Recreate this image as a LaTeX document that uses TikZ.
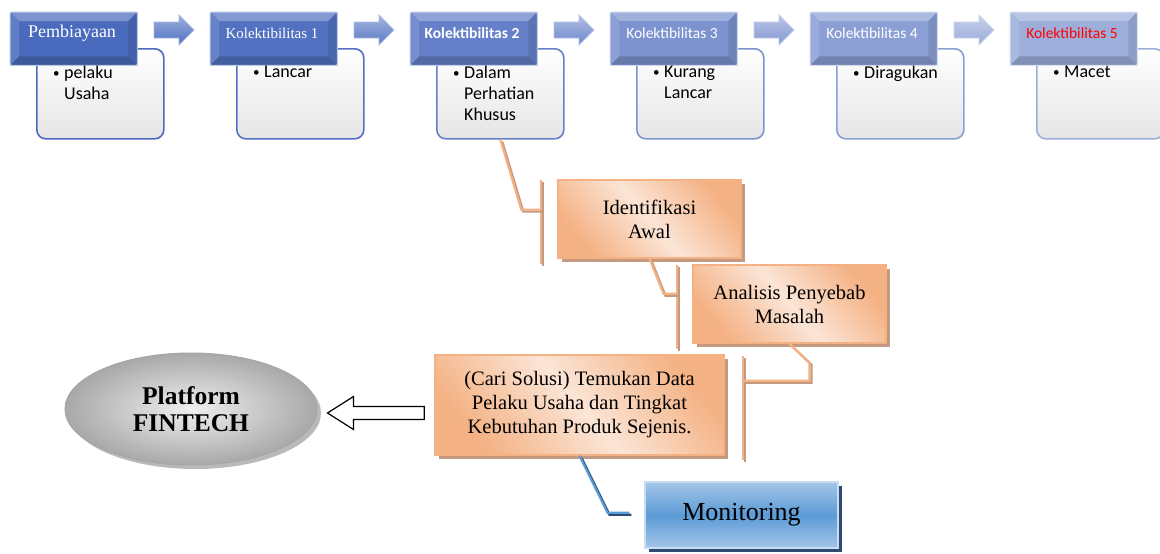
\documentclass[tikz,border=0pt]{standalone}
\usepackage{fontspec}
\setmainfont{Liberation Serif}
\newfontfamily\calib{Carlito}
\usetikzlibrary{shapes.geometric,shadows,calc}

\definecolor{hc1}{HTML}{4A6BBD}
\definecolor{hc2}{HTML}{5272C1}
\definecolor{hc3}{HTML}{6580C8}
\definecolor{hc4}{HTML}{7D93D0}
\definecolor{hc5}{HTML}{8B9FD5}
\definecolor{hc6}{HTML}{9DAEDB}
\definecolor{ac1}{HTML}{4E70C0}
\definecolor{ac2}{HTML}{5A7AC5}
\definecolor{ac3}{HTML}{6E88CC}
\definecolor{ac4}{HTML}{8397D2}
\definecolor{ac5}{HTML}{9AABDA}
\definecolor{org}{HTML}{F4B183}
\definecolor{orgl}{HTML}{FBE5D6}
\definecolor{orgsh}{HTML}{C39A80}
\definecolor{monM}{HTML}{5B9BD5}
\definecolor{monL}{HTML}{A4C6E8}
\definecolor{monsh}{HTML}{2E4A75}

\newcommand\itm{\makebox[11pt][l]{\raisebox{1pt}{\fontsize{13}{13}\selectfont\textbullet}}}

\tikzset{
  hdr/.style={rectangle, anchor=north west, inner sep=0pt,
    minimum width=127pt, minimum height=53pt, fill=#1},
  cbox/.style={rectangle, rounded corners=9pt, anchor=north west, inner sep=0pt,
    minimum width=127pt, minimum height=90pt, line width=1.6pt,
    draw=#1, top color=white, bottom color=gray!20},
  htxt/.style={inner sep=0pt, text=white},
  btxt/.style={anchor=north west, inner sep=0pt, align=left, text width=105pt,
    font=\calib\fontsize{18}{21}\selectfont},
  arw/.style={draw=white!50!#1, line width=0.8pt, top color=white!45!#1, bottom color=#1},
  obox/.style={rectangle, draw=org, line width=1.5pt, align=center,
    top color=org, bottom color=org, middle color=orgl, shading angle=-50,
    font=\fontsize{20.5}{24}\selectfont,
    drop shadow={shadow xshift=4pt, shadow yshift=-4pt, fill=orgsh, opacity=1}},
  mbox/.style={rectangle, draw=monL!60!white, line width=1.5pt,
    minimum width=193pt, minimum height=66pt,
    top color=monL, bottom color=monL, middle color=monM,
    font=\fontsize{26}{30}\selectfont,
    drop shadow={shadow xshift=4pt, shadow yshift=-4pt, fill=monsh, opacity=1}},
  fbox/.style={ellipse, draw=gray!70, line width=1pt, align=center,
    minimum width=252pt, minimum height=112pt,
    inner color=gray!12, outer color=gray!68,
    font=\bfseries\fontsize{25.5}{27}\selectfont,
    drop shadow={shadow xshift=4pt, shadow yshift=-4pt, fill=gray!55, opacity=1}},
  oline/.style={draw=org, line width=2.2pt,
    preaction={draw=orgsh, line width=2.2pt, transform canvas={shift={(2pt,-2pt)}}}},
  bline/.style={draw=monM, line width=2.2pt,
    preaction={draw=monsh, line width=2.2pt, transform canvas={shift={(2pt,-2pt)}}}}
}

\begin{document}
\begin{tikzpicture}[x=1pt,y=-1pt]
\useasboundingbox (0,0) rectangle (1160,554);

% top row: stages of collectibility
\foreach \i/\x/\hd/\bt in {
  1/10/{\fontsize{18}{20}\selectfont Pembiayaan}/{\itm pelaku\\\hspace*{11pt}Usaha},
  2/210/{\fontsize{15}{18}\selectfont Kolektibilitas 1}/{\itm Lancar},
  3/410/{\calib\bfseries\fontsize{15.5}{18}\selectfont Kolektibilitas 2}/{\itm Dalam\\\hspace*{11pt}Perhatian\\\hspace*{11pt}Khusus},
  4/610/{\calib\fontsize{15.5}{18}\selectfont Kolektibilitas 3}/{\itm Kurang\\\hspace*{11pt}Lancar},
  5/810/{\calib\fontsize{15.5}{18}\selectfont Kolektibilitas 4}/{\itm Diragukan},
  6/1010/{\calib\fontsize{15.5}{18}\selectfont\color{red} Kolektibilitas 5}/{\itm Macet}} {
  \node[cbox=hc\i] (bx\i) at (\x+26,48) {};
  \node[hdr=hc\i] (hd\i) at (\x,12) {};
  % bevel
  \fill[white!28!hc\i] (hd\i.north west) -- (hd\i.north east) -- ++(-9,9) -- ($(hd\i.north west)+(9,9)$) -- cycle;
  \fill[black!10!hc\i] (hd\i.north east) -- (hd\i.south east) -- ++(-9,-9) -- ($(hd\i.north east)+(-9,9)$) -- cycle;
  \fill[black!18!hc\i] (hd\i.south east) -- (hd\i.south west) -- ++(9,-9) -- ($(hd\i.south east)+(-9,-9)$) -- cycle;
  \fill[white!12!hc\i] (hd\i.south west) -- (hd\i.north west) -- ++(9,9) -- ($(hd\i.south west)+(9,-9)$) -- cycle;
  \draw[white!60!hc\i, line width=1pt, rounded corners=2pt] (hd\i.north west) rectangle (hd\i.south east);
  \node[htxt] (ht\i) at (\x+62,33) {\hd};
  \node[btxt] (tx\i) at (\x+43,66) {\bt};
}
\foreach \i in {1,...,5} {
  \pgfmathsetmacro\x{10+200*(\i-1)}
  \path[arw=ac\i] (\x+144,22) -- (\x+169,22) -- (\x+169,15) -- (\x+184,30)
    -- (\x+169,45) -- (\x+169,38) -- (\x+144,38) -- cycle;
}

% steps
\node[obox, minimum width=183pt, minimum height=78pt] (ident) at (649.5,219) {Identifikasi\\Awal};
\node[obox, minimum width=193pt, minimum height=78pt] (anls) at (789.5,304) {Analisis Penyebab\\Masalah};
\node[obox, minimum width=289pt, minimum height=100pt] (solu) at (579.5,405)
  {(Cari Solusi) Temukan Data\\Pelaku Usaha dan Tingkat\\Kebutuhan Produk Sejenis.};
\node[mbox] (mon) at (741.5,515) {Monitoring};
\node[fbox] (fin) at (191,409) {Platform\\FINTECH};

% brackets
\draw[oline] ($(ident.north west)+(-16,1)$) -- ($(ident.south west)+(-16,5)$);
\draw[oline] ($(anls.north west)+(-15,1)$) -- ($(anls.south west)+(-15,5)$);
\draw[oline] ($(solu.north east)+(18,2)$) -- ($(solu.south east)+(18,4)$);

% connectors
\draw[oline] (bx3.south) -- ++(21,70) coordinate (k1) -- ($(k1 -| ident.west)+(-16,0)$);
\draw[oline] (ident.south) -- ++(14,35) coordinate (k2) -- ($(k2 -| anls.west)+(-15,0)$);
\draw[oline] (anls.south) -- ++(20,19) -- ++(0,18) coordinate (k3) -- ($(k3 -| solu.east)+(18,0)$);
\draw[bline] (solu.south) -- ++(28,57) coordinate (k4) -- ($(k4 -| mon.west)+(-15,0)$);

% hollow arrow to platform
\coordinate (ha) at ($(solu.west)+(-10,8)$);
\coordinate (hb) at ($(fin.east)+(10,4)$);
\draw[line width=1.2pt, fill=white] ($(ha)+(0,-6.5)$) -- ($(hb)+(26,-6.5)$) -- ($(hb)+(26,-16.5)$)
  -- (hb) -- ($(hb)+(26,16.5)$) -- ($(hb)+(26,6.5)$) -- ($(ha)+(0,6.5)$) -- cycle;
\end{tikzpicture}
\end{document}
